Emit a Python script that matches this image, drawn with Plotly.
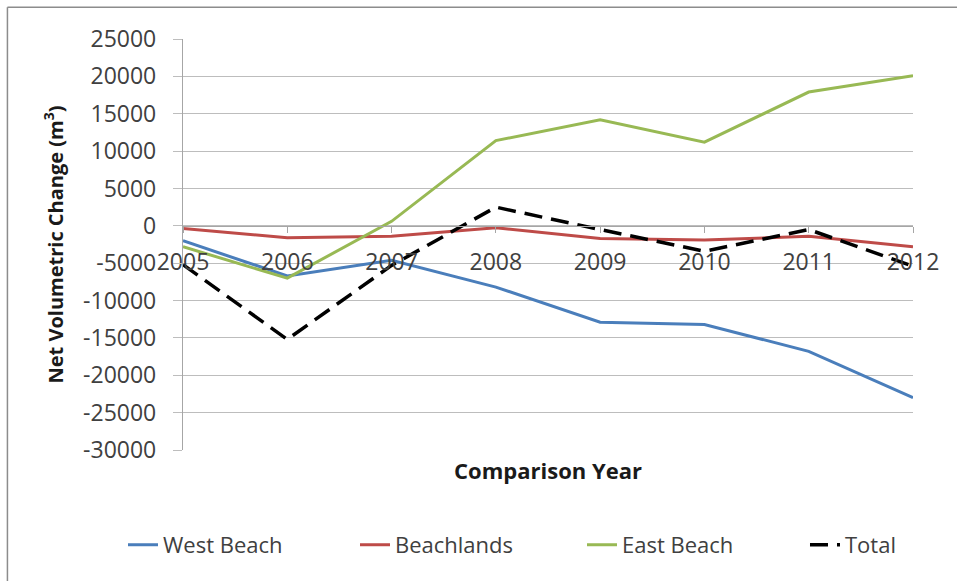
import plotly.graph_objects as go

years = [2005, 2006, 2007, 2008, 2009, 2010, 2011, 2012]
west_beach = [-2000, -6700, -4600, -8200, -12900, -13200, -16800, -23000]
beachlands = [-350, -1600, -1400, -270, -1700, -1900, -1400, -2800]
east_beach = [-2800, -7000, 600, 11400, 14200, 11200, 17900, 20100]
total = [-5200, -15200, -5300, 2500, -500, -3400, -500, -5400]
y_ticks = list(range(-30000, 25001, 5000))

FONT = "Open Sans"
TXT = "#404040"
GRID = "#bdbdbd"

fig = go.Figure()
series = [
    ("West Beach", west_beach, "#4A7EBB", "solid", 3, 187),
    ("Beachlands", beachlands, "#BE4B48", "solid", 3, 182),
    ("East Beach", east_beach, "#98B954", "solid", 3, 178),
    ("Total", total, "#000000", "18px,9px", 3.5, 60),
]
for name, vals, col, dash, w, lw in series:
    fig.add_trace(go.Scatter(x=years, y=vals, name=name, mode="lines",
                             legendwidth=lw,
                             line=dict(color=col, width=w, dash=dash)))

ymin, ymax = -30000, 25000
fig.update_layout(
    width=957, height=581,
    margin=dict(l=183, r=44, t=39, b=131, autoexpand=False),
    paper_bgcolor="white", plot_bgcolor="white",
    font=dict(family=FONT, color=TXT, size=22),
    xaxis=dict(
        range=[2005, 2012], tickvals=years, ticktext=[str(y) for y in years],
        anchor="free", position=(0 - ymin) / (ymax - ymin),
        showgrid=False, zeroline=False,
        showline=True, linecolor="#a6a6a6", linewidth=1.3,
        ticks="outside", ticklen=6, tickcolor="#a6a6a6", tickwidth=1.3,
        ticklabelstandoff=9,
        tickfont=dict(size=23, color=TXT),
        title=dict(text="<b>Comparison Year</b>", standoff=188,
                   font=dict(size=22, color="#1a1a1a")),
    ),
    yaxis=dict(
        range=[ymin, ymax], tickvals=y_ticks,
        ticktext=[str(v) for v in y_ticks],
        showgrid=True, gridcolor=GRID, gridwidth=1.3,
        zeroline=False,
        showline=True, linecolor="#a6a6a6", linewidth=1.3,
        ticks="outside", ticklen=9, tickcolor=GRID, tickwidth=1.3,
        ticklabelstandoff=12,
        tickfont=dict(size=23, color=TXT),
        title=dict(text="<b>Net Volumetric Change (m<sup>3</sup>)</b>", standoff=14,
                   font=dict(size=20, color="#1a1a1a")),
    ),
    legend=dict(orientation="h", x=-0.0822, y=-0.231, xanchor="left", yanchor="middle",
                font=dict(size=22, color=TXT), itemwidth=30),
    shapes=[
        dict(type="line", xref="paper", yref="paper", x0=-0.2405, x1=-0.2405,
             y0=-0.5, y1=1.077, line=dict(color="#8c8c8c", width=1.5)),
        dict(type="line", xref="paper", yref="paper", x0=-0.2405, x1=1.2,
             y0=1.077, y1=1.077, line=dict(color="#8c8c8c", width=1.5)),
    ],
)

fig.write_html("out.html")
